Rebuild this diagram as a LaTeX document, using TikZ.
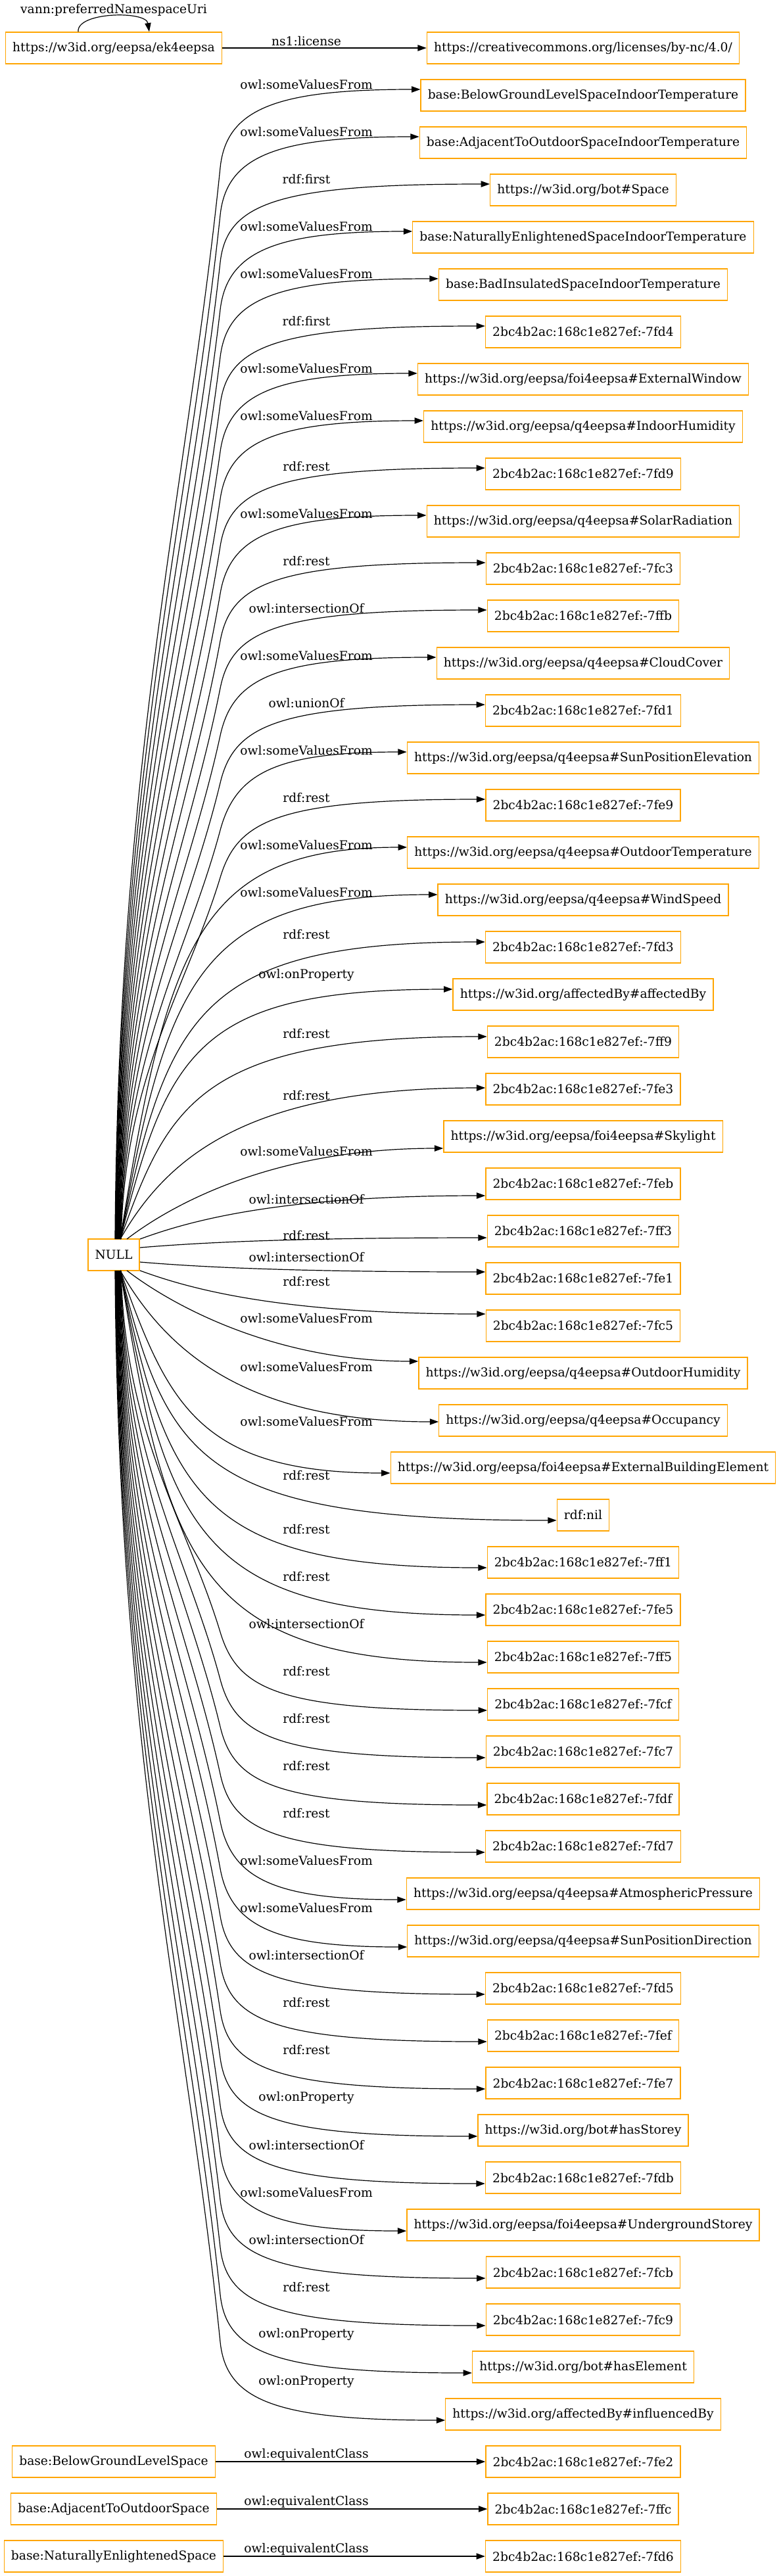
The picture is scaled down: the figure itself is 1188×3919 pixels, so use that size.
\documentclass[tikz,border=0pt]{standalone}
\usepackage{fontspec}
\setmainfont{DejaVu Serif}
\usetikzlibrary{arrows.meta}
\definecolor{nodeorange}{HTML}{FFA500}
\newcommand\rnode[2]{\node[box] (r#1) at (887,{73+72*(#1-1)}) {#2};}
\begin{document}
\begin{tikzpicture}[x=0.75pt,y=-0.75pt,
  box/.style={draw=nodeorange, line width=1pt, rectangle, minimum height=36pt, minimum width=54pt, inner xsep=8pt, inner ysep=0pt, font=\fontsize{14}{16}\selectfont},
  lbl/.style={inner sep=0pt, font=\fontsize{14}{16}\selectfont},
  edge/.style={draw=black, line width=0.9pt, -{Triangle[length=10pt,width=7pt]}}]
\useasboundingbox (0,0) rectangle (1188,3919);

% left column
\node[box] (ek) at (173,73) {https://w3id.org/eepsa/ek4eepsa};
\node[box] (null) at (173,1909) {NULL};
\node[box] (l52) at (173,3745) {base:BelowGroundLevelSpace};
\node[box] (l53) at (173,3817) {base:AdjacentToOutdoorSpace};
\node[box] (l54) at (173,3889) {base:NaturallyEnlightenedSpace};

% right column
\rnode{1}{https://creativecommons.org/licenses/by-nc/4.0/}
\rnode{2}{base:BelowGroundLevelSpaceIndoorTemperature}
\rnode{3}{base:AdjacentToOutdoorSpaceIndoorTemperature}
\rnode{4}{https://w3id.org/bot\#Space}
\rnode{5}{base:NaturallyEnlightenedSpaceIndoorTemperature}
\rnode{6}{base:BadInsulatedSpaceIndoorTemperature}
\rnode{7}{2bc4b2ac:168c1e827ef:-7fd4}
\rnode{8}{https://w3id.org/eepsa/foi4eepsa\#ExternalWindow}
\rnode{9}{https://w3id.org/eepsa/q4eepsa\#IndoorHumidity}
\rnode{10}{2bc4b2ac:168c1e827ef:-7fd9}
\rnode{11}{https://w3id.org/eepsa/q4eepsa\#SolarRadiation}
\rnode{12}{2bc4b2ac:168c1e827ef:-7fc3}
\rnode{13}{2bc4b2ac:168c1e827ef:-7ffb}
\rnode{14}{https://w3id.org/eepsa/q4eepsa\#CloudCover}
\rnode{15}{2bc4b2ac:168c1e827ef:-7fd1}
\rnode{16}{https://w3id.org/eepsa/q4eepsa\#SunPositionElevation}
\rnode{17}{2bc4b2ac:168c1e827ef:-7fe9}
\rnode{18}{https://w3id.org/eepsa/q4eepsa\#OutdoorTemperature}
\rnode{19}{https://w3id.org/eepsa/q4eepsa\#WindSpeed}
\rnode{20}{2bc4b2ac:168c1e827ef:-7fd3}
\rnode{21}{https://w3id.org/affectedBy\#affectedBy}
\rnode{22}{2bc4b2ac:168c1e827ef:-7ff9}
\rnode{23}{2bc4b2ac:168c1e827ef:-7fe3}
\rnode{24}{https://w3id.org/eepsa/foi4eepsa\#Skylight}
\rnode{25}{2bc4b2ac:168c1e827ef:-7feb}
\rnode{26}{2bc4b2ac:168c1e827ef:-7ff3}
\rnode{27}{2bc4b2ac:168c1e827ef:-7fe1}
\rnode{28}{2bc4b2ac:168c1e827ef:-7fc5}
\rnode{29}{https://w3id.org/eepsa/q4eepsa\#OutdoorHumidity}
\rnode{30}{https://w3id.org/eepsa/q4eepsa\#Occupancy}
\rnode{31}{https://w3id.org/eepsa/foi4eepsa\#ExternalBuildingElement}
\rnode{32}{rdf:nil}
\rnode{33}{2bc4b2ac:168c1e827ef:-7ff1}
\rnode{34}{2bc4b2ac:168c1e827ef:-7fe5}
\rnode{35}{2bc4b2ac:168c1e827ef:-7ff5}
\rnode{36}{2bc4b2ac:168c1e827ef:-7fcf}
\rnode{37}{2bc4b2ac:168c1e827ef:-7fc7}
\rnode{38}{2bc4b2ac:168c1e827ef:-7fdf}
\rnode{39}{2bc4b2ac:168c1e827ef:-7fd7}
\rnode{40}{https://w3id.org/eepsa/q4eepsa\#AtmosphericPressure}
\rnode{41}{https://w3id.org/eepsa/q4eepsa\#SunPositionDirection}
\rnode{42}{2bc4b2ac:168c1e827ef:-7fd5}
\rnode{43}{2bc4b2ac:168c1e827ef:-7fef}
\rnode{44}{2bc4b2ac:168c1e827ef:-7fe7}
\rnode{45}{https://w3id.org/bot\#hasStorey}
\rnode{46}{2bc4b2ac:168c1e827ef:-7fdb}
\rnode{47}{https://w3id.org/eepsa/foi4eepsa\#UndergroundStorey}
\rnode{48}{2bc4b2ac:168c1e827ef:-7fcb}
\rnode{49}{2bc4b2ac:168c1e827ef:-7fc9}
\rnode{50}{https://w3id.org/bot\#hasElement}
\rnode{51}{https://w3id.org/affectedBy\#influencedBy}
\rnode{52}{2bc4b2ac:168c1e827ef:-7fe2}
\rnode{53}{2bc4b2ac:168c1e827ef:-7ffc}
\rnode{54}{2bc4b2ac:168c1e827ef:-7fd6}

% self loop
\draw[edge] ([xshift=-40.5pt]ek.north) .. controls (116,18) and (222,16) .. ([xshift=40.5pt]ek.north);
\node[lbl] (loopl) at (173,15) {vann:preferredNamespaceUri};

% straight edges
\draw[edge] (ek) -- (r1);
\node[lbl] (lic) at (466,63) {ns1:license};
\draw[edge] (l52) -- (r52);
\node[lbl] (eq1) at (466,3734) {owl:equivalentClass};
\draw[edge] (l53) -- (r53);
\node[lbl] (eq2) at (466,3806) {owl:equivalentClass};
\draw[edge] (l54) -- (r54);
\node[lbl] (eq3) at (466,3878) {owl:equivalentClass};

% edges from NULL
\foreach \i/\lab/\ly in {
 2/owl:someValuesFrom/129, 3/owl:someValuesFrom/201, 4/rdf:first/273,
 5/owl:someValuesFrom/345, 6/owl:someValuesFrom/417, 7/rdf:first/489,
 8/owl:someValuesFrom/561, 9/owl:someValuesFrom/633, 10/rdf:rest/710,
 11/owl:someValuesFrom/782, 12/rdf:rest/854, 13/owl:intersectionOf/926,
 14/owl:someValuesFrom/998, 15/owl:unionOf/1070, 16/owl:someValuesFrom/1142,
 17/rdf:rest/1214, 18/owl:someValuesFrom/1286, 19/owl:someValuesFrom/1358,
 20/rdf:rest/1422, 21/owl:onProperty/1483, 22/rdf:rest/1573,
 23/rdf:rest/1667, 24/owl:someValuesFrom/1752, 25/owl:intersectionOf/1825,
 26/rdf:rest/1880, 27/owl:intersectionOf/1913, 28/rdf:rest/1950,
 29/owl:someValuesFrom/2006, 30/owl:someValuesFrom/2080, 31/owl:someValuesFrom/2163,
 32/rdf:rest/2245, 33/rdf:rest/2327, 34/rdf:rest/2399,
 35/owl:intersectionOf/2471, 36/rdf:rest/2543, 37/rdf:rest/2615,
 38/rdf:rest/2687, 39/rdf:rest/2759, 40/owl:someValuesFrom/2831,
 41/owl:someValuesFrom/2903, 42/owl:intersectionOf/2975, 43/rdf:rest/3047,
 44/rdf:rest/3119, 45/owl:onProperty/3191, 46/owl:intersectionOf/3263,
 47/owl:someValuesFrom/3335, 48/owl:intersectionOf/3407, 49/rdf:rest/3479,
 50/owl:onProperty/3551, 51/owl:onProperty/3623}{
  \pgfmathsetmacro\ty{73+72*(\i-1)}
  \pgfmathsetmacro\D{\ty-1909}
  \pgfmathsetmacro\A{abs(\D)}
  \pgfmathsetmacro\s{\D/\A}
  \node[lbl] (e\i) at (466,\ly) {\lab};
  \ifdim\A pt<300pt
    % edges close to NULL: one smooth arc
    \pgfmathsetmacro\Sx{\A<150 ? 213 : (\A<200 ? 193 : 183)}
    \pgfmathsetmacro\So{\A<72 ? 11 : 24}
    \pgfmathsetmacro\To{\A<72 ? -10 : (\A<200 ? -18 : 2)}
    \pgfmathsetmacro\f{\A<200 ? 0.4 : 0.55}
    \pgfmathsetmacro\cbx{\A<200 ? 420 : 380}
    \pgfmathsetmacro\Sy{1909+\So*\s}
    \pgfmathsetmacro\Ty{\ty+\To*\s}
    \pgfmathsetmacro\cax{\Sx+72}
    \pgfmathsetmacro\cay{\Sy+\f*(\Ty-\Sy)}
    \pgfmathsetmacro\xs{(\Sx-173)*0.75}
    \pgfmathsetmacro\ys{-(\Sy-1909)*0.75}
    \pgfmathsetmacro\sh{-\To*\s*0.75}
    \draw[edge] ([xshift=\xs pt,yshift=\ys pt]null.center) .. controls (\cax,\cay) and (\cbx,\Ty) .. ([yshift=\sh pt]r\i.west);
  \else\ifdim\A pt<650pt
    % middle distance: slanted arc
    \pgfmathsetmacro\Sy{1909+24*\s}
    \pgfmathsetmacro\Ty{\ty+8*\s}
    \pgfmathsetmacro\f{\A<350 ? 0.65 : 0.75}
    \pgfmathsetmacro\cay{\Sy+\f*(\Ty-\Sy)}
    \pgfmathsetmacro\ys{-18*\s}
    \pgfmathsetmacro\sh{-6*\s}
    \draw[edge] ([xshift=7.5pt,yshift=\ys pt]null.center) .. controls (255,\cay) and (300,\Ty) .. ([yshift=\sh pt]r\i.west);
  \else
    % far: rise along the bundle, then bend
    \pgfmathsetmacro\Sx{190-15*(\A/1764)}
    \pgfmathsetmacro\Sy{1909+24*\s}
    \pgfmathsetmacro\Py{\ty-110*\s}
    \pgfmathsetmacro\L{abs(\Py-\Sy)}
    \pgfmathsetmacro\cax{\Sx+5}
    \pgfmathsetmacro\cay{\Sy+0.45*\L*\s}
    \pgfmathsetmacro\cby{\Py-0.3*\L*\s}
    \pgfmathsetmacro\nrm{veclen(50,0.3*\L)}
    \pgfmathsetmacro\ccx{335+4500/\nrm}
    \pgfmathsetmacro\ccy{\Py+27*(\L/\nrm)*\s}
    \pgfmathsetmacro\cdy{\ty+9*\s}
    \pgfmathsetmacro\xs{(\Sx-173)*0.75}
    \pgfmathsetmacro\ys{-18*\s}
    \pgfmathsetmacro\sh{-6.75*\s}
    \draw[edge] ([xshift=\xs pt,yshift=\ys pt]null.center) .. controls (\cax,\cay) and (285,\cby) .. (335,\Py)
       .. controls (\ccx,\ccy) and (420,\cdy) .. ([yshift=\sh pt]r\i.west);
  \fi\fi
}
\end{tikzpicture}
\end{document}
